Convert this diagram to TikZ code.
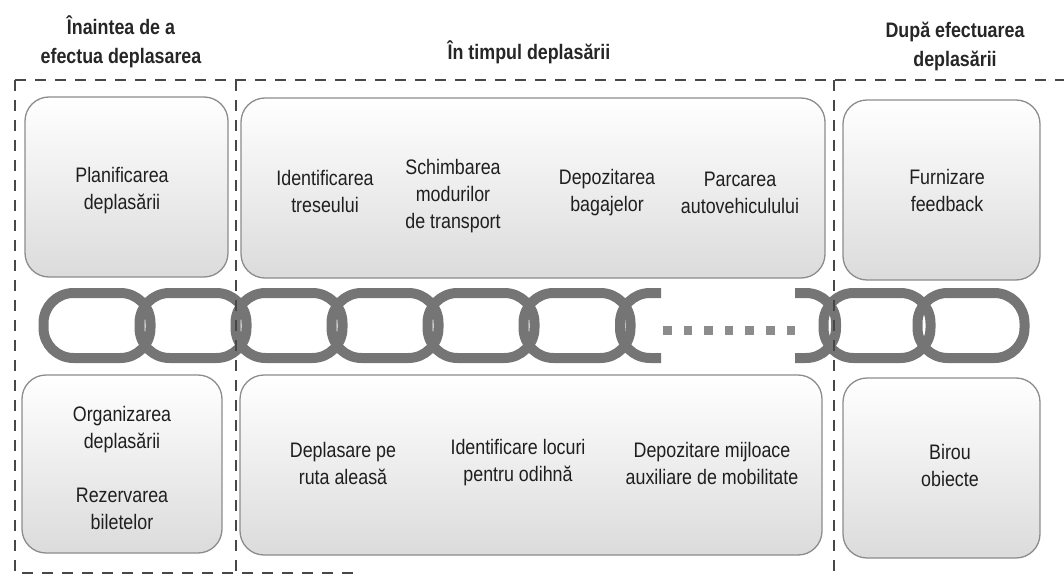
\documentclass[tikz,border=0pt]{standalone}
\usepackage{fontspec}
\setmainfont{Liberation Sans}[FakeStretch=0.85]

\begin{document}
\begin{tikzpicture}[x=1pt, y=-1pt,
  frame/.style={draw=black!72, line width=2.2pt, dash pattern=on 11pt off 9pt},
  phasebox/.style={draw=black!45, line width=1.3pt, rounded corners=24pt,
    top color=white, bottom color=black!14},
  chainlink/.style={draw=black!54, line width=10pt, rounded corners=30pt},
  cell/.style={align=center, text=black!88,
    font=\fontsize{21}{27}\selectfont},
  phase/.style={align=center, text=black!85,
    font=\bfseries\fontsize{21}{29}\selectfont}]
  \useasboundingbox (0,0) rectangle (1064,580);
  % --- Headings of the three phases ---
  \node[phase] (before) at (121,42) {Înaintea de a\\efectua deplasarea};
  \node[phase] (during) at (529,52) {În timpul deplasării};
  \node[phase] (after) at (955,46) {După efectuarea\\deplasării};
  % --- Upper row of boxes ---
  \draw[phasebox] (25,97) rectangle (228,277);
  \draw[phasebox] (241,98) rectangle (825,278);
  \draw[phasebox] (843,100) rectangle (1040,280);
  \node[cell] (plan) at (122,191) {Planificarea\\deplasării};
  \node[cell] (route) at (325,191) {Identificarea\\treseului};
  \node[cell] (modes) at (453,196) {Schimbarea\\modurilor\\de transport};
  \node[cell] (luggage) at (607,193) {Depozitarea\\bagajelor};
  \node[cell] (parking) at (740,193) {Parcarea\\autovehiculului};
  \node[cell] (feedback) at (947,190) {Furnizare\\feedback};
  % --- Chain: full links, cut links and the gap ---
  \foreach \cx in {97,193,289,385,481,577,877,971}
    \draw[chainlink] (\cx-53.5,293) rectangle (\cx+53.5,358);
  \draw[chainlink] (661,293) -- (620,293) -- (620,358) -- (661,358);
  \draw[chainlink] (795,293) -- (836,293) -- (836,358) -- (795,358);
  \foreach \k in {0,...,6}
    \fill[black!45] (663+20.6*\k,326) rectangle ++(8.5,8.5);
  % --- Lower row of boxes ---
  \draw[phasebox] (22,375) rectangle (222,553);
  \draw[phasebox] (240,375) rectangle (822,555);
  \draw[phasebox] (843,378) rectangle (1040,558);
  \node[cell] (organise) at (122,430) {Organizarea\\deplasării};
  \node[cell] (tickets) at (122,509) {Rezervarea\\biletelor};
  \node[cell] (travel) at (343,463) {Deplasare pe\\ruta aleasă};
  \node[cell] (rest) at (518,463) {Identificare locuri\\pentru odihnă};
  \node[cell] (aids) at (712,463) {Depozitare mijloace\\auxiliare de mobilitate};
  \node[cell] (office) at (950,465) {Birou\\obiecte};
  % --- Dashed frames of the phases ---
  \draw[frame] (15,80) -- (1064,80);
  \draw[frame] (15,80) -- (15,573) -- (360,573);
  \draw[frame] (236,80) -- (236,575);
  \draw[frame] (834,80) -- (834,578);
\end{tikzpicture}
\end{document}
